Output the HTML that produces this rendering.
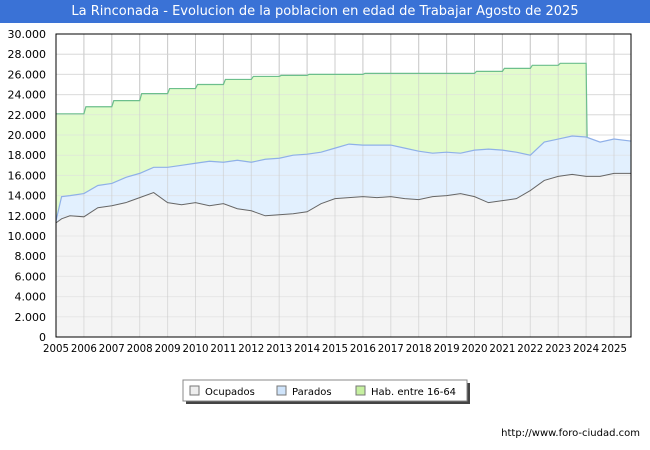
<!DOCTYPE html>
<html><head><meta charset="utf-8"><style>
body{margin:0;background:#fff;font-family:"DejaVu Sans","Liberation Sans",sans-serif}
#wrap{position:relative;width:650px;height:450px;overflow:hidden}
#title{position:absolute;left:0;top:0;width:650px;height:23px;background:#3a72d6;color:#fff;font-size:13px;line-height:23px;text-align:center}
#url{position:absolute;right:10px;top:428px;font-size:10px;color:#000}
</style></head><body>
<div id="wrap">
<div id="title">La Rinconada - Evolucion de la poblacion en edad de Trabajar Agosto de 2025</div>
<svg id="svg" width="650" height="450" style="position:absolute;left:0;top:0"></svg>
<div id="url">http://www.foro-ciudad.com</div>
</div>
<script>
const habYears=[2005,2006,2007,2008,2009,2010,2011,2012,2013,2014,2015,2016,2017,2018,2019,2020,2021,2022,2023];
const habValues=[22100,22800,23400,24100,24600,25000,25500,25800,25900,26000,26000,26100,26100,26100,26100,26300,26600,26900,27100];
const timeKeys=[2005,2005.2,2005.5,2006,2006.5,2007,2007.5,2008,2008.5,2009,2009.5,2010,2010.5,2011,2011.5,2012,2012.5,2013,2013.5,2014,2014.5,2015,2015.5,2016,2016.5,2017,2017.5,2018,2018.5,2019,2019.5,2020,2020.5,2021,2021.5,2022,2022.5,2023,2023.5,2024,2024.5,2025,2025.6];
const activos=[11500,13900,14000,14200,15000,15200,15800,16200,16800,16800,17000,17200,17400,17300,17500,17300,17600,17700,18000,18100,18300,18700,19100,19000,19000,19000,18700,18400,18200,18300,18200,18500,18600,18500,18300,18000,19300,19600,19900,19800,19300,19600,19400];
const ocupados=[11300,11700,12000,11900,12800,13000,13300,13800,14300,13300,13100,13300,13000,13200,12700,12500,12000,12100,12200,12400,13200,13700,13800,13900,13800,13900,13700,13600,13900,14000,14200,13900,13300,13500,13700,14500,15500,15900,16100,15900,15900,16200,16200];
const yTicks=[0,2000,4000,6000,8000,10000,12000,14000,16000,18000,20000,22000,24000,26000,28000,30000];
const xTicks=[2005,2006,2007,2008,2009,2010,2011,2012,2013,2014,2015,2016,2017,2018,2019,2020,2021,2022,2023,2024,2025];
const L=56,R=631,T=34,B=337;
const X=v=>L+(v-2005)*27.9;
const Y=v=>B-(v/30000)*(B-T);
const svg=document.getElementById('svg');
const NS='http://www.w3.org/2000/svg';
function mk(t,a){const e=document.createElementNS(NS,t);for(const k in a)e.setAttribute(k,a[k]);svg.appendChild(e);return e;}
const bg=mk('rect',{x:L,y:T,width:R-L,height:B-T,fill:'#fff',stroke:'#000','stroke-width':1});

yTicks.forEach(v=>{const g=mk('line',{x1:L,x2:R,y1:Y(v),y2:Y(v),stroke:'#ddd'});

const t=mk('text',{x:L-10,y:Y(v)+4,'text-anchor':'end','font-size':11,fill:'#000'});t.textContent=v.toLocaleString('de-DE');
});
xTicks.forEach(v=>{const g=mk('line',{x1:X(v),x2:X(v),y1:T,y2:B,stroke:'#ccc'});

const t=mk('text',{x:X(v),y:B+15,'text-anchor':'middle','font-size':11,textLength:26,lengthAdjust:'spacingAndGlyphs',fill:'#000'});t.textContent=v;
});
let hp=[];habYears.forEach((y,i)=>{hp.push([X(y)+(i?2:0),Y(habValues[i])]);hp.push([X(y+1),Y(habValues[i])]);});
const hEnd=X(2024);
const actAt=t=>{for(let i=1;i<timeKeys.length;i++)if(t<=timeKeys[i]){const f=(t-timeKeys[i-1])/(timeKeys[i]-timeKeys[i-1]);return activos[i-1]+f*(activos[i]-activos[i-1]);}return activos[activos.length-1];};
let habArea='M'+hp.map(p=>p.join(',')).join(' L')+' L'+(hEnd+1)+','+Y(actAt(2024))+' L'+X(2005)+','+B+' Z';
const ha=mk('path',{d:habArea,fill:'#e2fccc'});
const aPts=timeKeys.map((t,i)=>X(t)+','+Y(activos[i]));
const aa=mk('path',{d:'M'+aPts.join(' L')+' L'+X(timeKeys[timeKeys.length-1])+','+B+' L'+L+','+B+' Z',fill:'#e2f0fe'});

const oPts=timeKeys.map((t,i)=>X(t)+','+Y(ocupados[i]));
const oa=mk('path',{d:'M'+oPts.join(' L')+' L'+X(timeKeys[timeKeys.length-1])+','+B+' L'+L+','+B+' Z',fill:'#f4f4f4'});

yTicks.forEach(v=>{mk('line',{x1:L,x2:R,y1:Y(v),y2:Y(v),stroke:'#ddd','stroke-opacity':0.6});});
xTicks.forEach(v=>{mk('line',{x1:X(v),x2:X(v),y1:T,y2:B,stroke:'#ccc','stroke-opacity':0.6});});
const hl=mk('path',{d:'M'+hp.map(p=>p.join(',')).join(' L')+' L'+(hEnd+1)+','+Y(actAt(2024)),fill:'none',stroke:'#6cbf8c','stroke-width':1.2});

const al=mk('polyline',{points:aPts.join(' '),fill:'none',stroke:'#8fb0e8','stroke-width':1.2});

const ol=mk('polyline',{points:oPts.join(' '),fill:'none',stroke:'#666','stroke-width':1});

mk('rect',{x:L,y:T,width:R-L,height:B-T,fill:'none',stroke:'#000','stroke-width':1});
mk('rect',{x:186,y:383,width:284,height:21,fill:'#444'});
const lg=mk('rect',{x:183,y:380,width:284,height:21,fill:'#fff',stroke:'#888'});

[['Ocupados','#eee',190],['Parados','#cfe4fb',277],['Hab. entre 16-64','#c6f0a0',356]].forEach(([n,c,x])=>{
const s=mk('rect',{x:x,y:386,width:9,height:9,fill:c,stroke:'#777'});
const t=mk('text',{x:x+15,y:395,'font-size':10,fill:'#000'});t.textContent=n;});
</script>
</body></html>
